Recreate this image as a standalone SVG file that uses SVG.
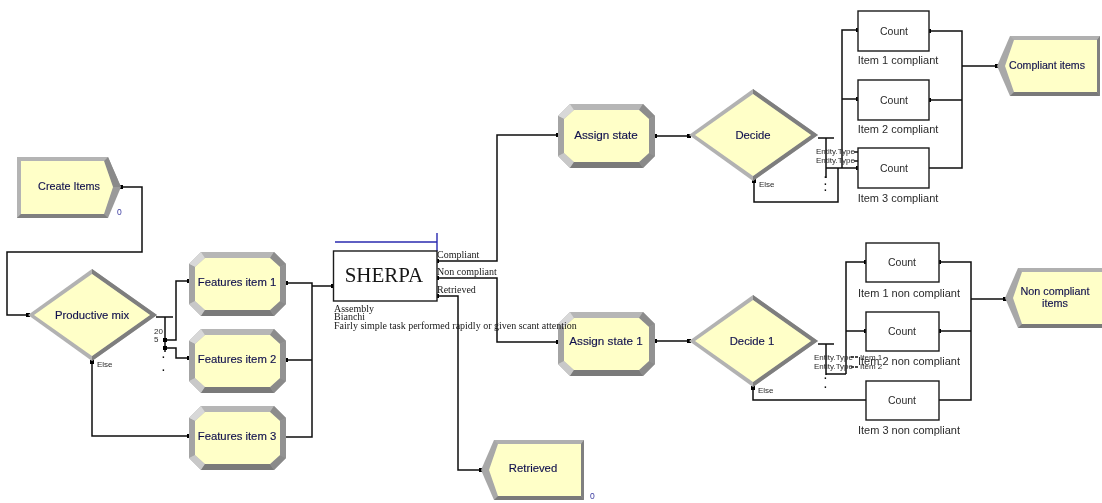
<svg xmlns="http://www.w3.org/2000/svg" width="1102" height="503" viewBox="0 0 1102 503">
<style>
.c{fill:none;stroke:#0c0c0c;stroke-width:1.5}
.p{marker-end:url(#port)}
.q{marker-start:url(#port)}
.n{font-family:"Liberation Sans",Arial,sans-serif;font-size:11.3px;fill:#12124e;stroke:#12124e;stroke-width:.15;text-anchor:middle}
.k{font-family:"Liberation Sans",Arial,sans-serif;font-size:10.5px;fill:#2a2a2a;text-anchor:middle}
.l{font-family:"Liberation Sans",Arial,sans-serif;font-size:11px;fill:#2a2a2a;text-anchor:middle}
.s{font-family:"Liberation Sans",Arial,sans-serif;font-size:8px;fill:#2a2a2a}
.d{font-family:"Liberation Sans",Arial,sans-serif;font-size:10px;font-weight:bold;fill:#111}
.t{font-family:"Liberation Serif","Times New Roman",serif;font-size:10px;fill:#181818}
.b{fill:#fff;stroke:#1a1a1a;stroke-width:1.4}
.y{fill:#ffffc8}
.v{font-family:"Liberation Sans",Arial,sans-serif;font-size:8.5px;fill:#3a3aa0}
</style>
<defs>
<filter id="soft" x="0" y="0" width="100%" height="100%"><feGaussianBlur stdDeviation="0.35"/></filter>
<marker id="port" markerUnits="userSpaceOnUse" markerWidth="5" markerHeight="5" refX="2" refY="2" orient="auto"><rect width="4" height="4" fill="#000"/></marker>
<g id="oct">
<polygon points="12,0 85,0 97,12 97,52 85,64 12,64 0,52 0,12" fill="#a6a6a6"/>
<polygon points="12,0 85,0 81,6 16,6" fill="#b6b6b6"/>
<polygon points="0,12 12,0 16,6 6,15" fill="#d8d8d8"/>
<polygon points="85,0 97,12 91,15 81,6" fill="#8c8c8c"/>
<polygon points="0,12 6,15 6,49 0,52" fill="#a4a4a4"/>
<polygon points="97,12 91,15 91,49 97,52" fill="#929292"/>
<polygon points="0,52 6,49 16,58 12,64" fill="#c8c8c8"/>
<polygon points="97,52 91,49 81,58 85,64" fill="#8a8a8a"/>
<polygon points="16,58 81,58 85,64 12,64" fill="#7a7a7a"/>
<polygon class="y" points="16,6 81,6 91,15 91,49 81,58 16,58 6,49 6,15"/>
</g>
<g id="dia">
<polygon points="0,46 64,0 129,46 64,92" fill="#b2b2b2"/>
<polygon points="64,0 129,46 64,92 64,87 122,46 64,5" fill="#7e7e7e"/>
<polygon class="y" points="6,46 64,5 122,46 64,87"/>
</g>
<g id="create">
<polygon points="0,0 91,0 104,30 91,61 0,61" fill="#9a9a9a"/>
<polygon points="91,0 104,30 96,30 87,4" fill="#8a8a8a"/>
<polygon points="0,0 91,0 87,4 4,4 4,57 0,61" fill="#b4b4b4"/>
<polygon points="0,61 4,57 87,57 91,61" fill="#808080"/>
<polygon class="y" points="4,4 87,4 96,30 87,57 4,57"/>
</g>
<g id="disp">
<polygon points="13,0 103,0 103,60 13,60 0,30" fill="#a8a8a8"/>
<polygon points="13,0 103,0 100,4 17,4" fill="#b0b0b0"/>
<polygon points="103,0 103,60 100,56 100,4" fill="#808080"/>
<polygon points="13,60 103,60 100,56 17,56" fill="#7a7a7a"/>
<polygon class="y" points="17,4 100,4 100,56 17,56 8,30"/>
</g>
</defs>
<g filter="url(#soft)">
<rect width="1102" height="503" fill="#fff"/>
<g id="connectors">
<path class="c p q" d="M121,187H142V252H7V315H28"/>
<path class="c" d="M156,317H173M165,317V352"/>
<path class="c p q" d="M165,340H176V281H189"/>
<path class="c p q" d="M165,348H176V358H189"/>
<path class="c p q" d="M189,436H92V362"/>
<path class="c q" d="M286,283H312V437H286"/>
<path class="c q" d="M286,360H312"/>
<path class="c p" d="M312,286H333"/>
<path class="c p q" d="M437,261H497V135H558"/>
<path class="c p q" d="M437,278H497V342H558"/>
<path class="c p q" d="M437,296H458V470H481"/>
<path class="c p q" d="M655,136H689"/>
<path class="c p q" d="M655,341H689"/>
<path class="c" d="M818,138H834M826,138V178"/>
<path class="c p" d="M826,168H858"/>
<path class="c p" d="M842,168V30H858"/>
<path class="c p" d="M842,99H858"/>
<path class="c p" d="M838,168V202H754V181"/>
<path class="c" d="M854,152H858M854,161H858"/>
<path class="c" d="M818,344H834M826,344V375"/>
<path class="c" d="M826,374H846"/>
<path class="c p" d="M846,374V262H866"/>
<path class="c p" d="M846,331H866"/>
<path class="c p" d="M866,400H753V388"/>
<path class="c" d="M851,357H859M851,367H859" stroke-dasharray="3 1"/>
<path class="c q" d="M929,31H962V168H929"/>
<path class="c q" d="M929,100H962"/>
<path class="c p" d="M962,66H997"/>
<path class="c q" d="M939,262H971V400H939"/>
<path class="c q" d="M939,331H971"/>
<path class="c p" d="M971,299H1005"/>
<path fill="none" stroke="#2a2ab0" stroke-width="1.4" d="M335,242H437M437,233V251"/>
</g>

<g id="create-items"><use href="#create" x="17" y="157"/><text class="n" x="69" y="190" style="font-size:10.8px">Create Items</text><text class="v" x="117" y="215">0</text></g>
<g id="productive-mix"><use href="#dia" x="28" y="269"/><text class="n" x="92" y="319">Productive mix</text><text class="s" x="154" y="334">20</text><text class="s" x="154" y="342">5</text><text class="d" x="162" y="358">.</text><text class="d" x="162" y="371">.</text><text class="s" x="97" y="367">Else</text></g>
<g id="features-item-1"><use href="#oct" x="189" y="252"/><text class="n" x="237" y="286">Features item 1</text></g>
<g id="features-item-2"><use href="#oct" x="189" y="329"/><text class="n" x="237" y="363">Features item 2</text></g>
<g id="features-item-3"><use href="#oct" x="189" y="406"/><text class="n" x="237" y="440">Features item 3</text></g>

<g id="assign-state"><use href="#oct" x="558" y="104"/><text class="n" x="606" y="139" style="font-size:11.7px">Assign state</text></g>
<g id="assign-state-1"><use href="#oct" x="558" y="312"/><text class="n" x="606" y="345" style="font-size:11.7px">Assign state 1</text></g>
<g id="decide"><use href="#dia" x="689" y="89"/><text class="n" x="753" y="139">Decide</text><text class="s" x="816" y="154">Entity.Type</text><text class="s" x="816" y="163">Entity.Type</text><text class="d" x="824" y="178">.</text><text class="d" x="824" y="185">.</text><text class="d" x="824" y="191">.</text><text class="s" x="759" y="187">Else</text></g>
<g id="decide-1"><use href="#dia" x="689" y="295"/><text class="n" x="752" y="345">Decide 1</text><text class="s" x="814" y="360">Entity.Type</text><text class="s" x="814" y="369">Entity.Type</text><text class="s" x="860" y="360">Item 1</text><text class="s" x="860" y="369">Item 2</text><text class="d" x="824" y="379">.</text><text class="d" x="824" y="388">.</text><text class="s" x="758" y="393">Else</text></g>

<g id="sherpa"><rect class="b" x="333.500" y="251" width="103.500" height="50"/>
<text x="384" y="282" font-family="'Liberation Serif','Times New Roman',serif" font-size="21px" fill="#181818" text-anchor="middle">SHERPA</text>
<text class="t" x="437" y="258">Compliant</text><text class="t" x="437" y="275">Non compliant</text><text class="t" x="437" y="293">Retrieved</text>
<text class="t" x="334" y="312">Assembly</text><text class="t" x="334" y="320">Bianchi</text><text class="t" x="334" y="329">Fairly simple task performed rapidly or given scant attention</text></g>

<g id="count-c1"><rect class="b" x="858" y="11" width="71" height="40"/><text class="k" x="894" y="35">Count</text><text class="l" x="898" y="64">Item 1 compliant</text></g>
<g id="count-c2"><rect class="b" x="858" y="80" width="71" height="40"/><text class="k" x="894" y="104">Count</text><text class="l" x="898" y="133">Item 2 compliant</text></g>
<g id="count-c3"><rect class="b" x="858" y="148" width="71" height="40"/><text class="k" x="894" y="172">Count</text><text class="l" x="898" y="202">Item 3 compliant</text></g>
<g id="count-n1"><rect class="b" x="866" y="243" width="73" height="39"/><text class="k" x="902" y="266">Count</text><text class="l" x="909" y="297">Item 1 non compliant</text></g>
<g id="count-n2"><rect class="b" x="866" y="312" width="73" height="39"/><text class="k" x="902" y="335">Count</text><text class="l" x="909" y="365">Item 2 non compliant</text></g>
<g id="count-n3"><rect class="b" x="866" y="381" width="73" height="39"/><text class="k" x="902" y="404">Count</text><text class="l" x="909" y="434">Item 3 non compliant</text></g>

<g id="compliant-items"><use href="#disp" x="997" y="36"/><text class="n" x="1047" y="69" style="font-size:10.6px">Compliant items</text></g>
<g id="non-compliant-items"><use href="#disp" x="1005" y="268"/><text class="n" x="1055" y="295" style="font-size:10.8px">Non compliant</text><text class="n" x="1055" y="307" style="font-size:10.8px">items</text></g>
<g id="retrieved"><use href="#disp" x="481" y="440"/><text class="n" x="533" y="472">Retrieved</text><text class="v" x="590" y="499">0</text></g>
</g>
</svg>
